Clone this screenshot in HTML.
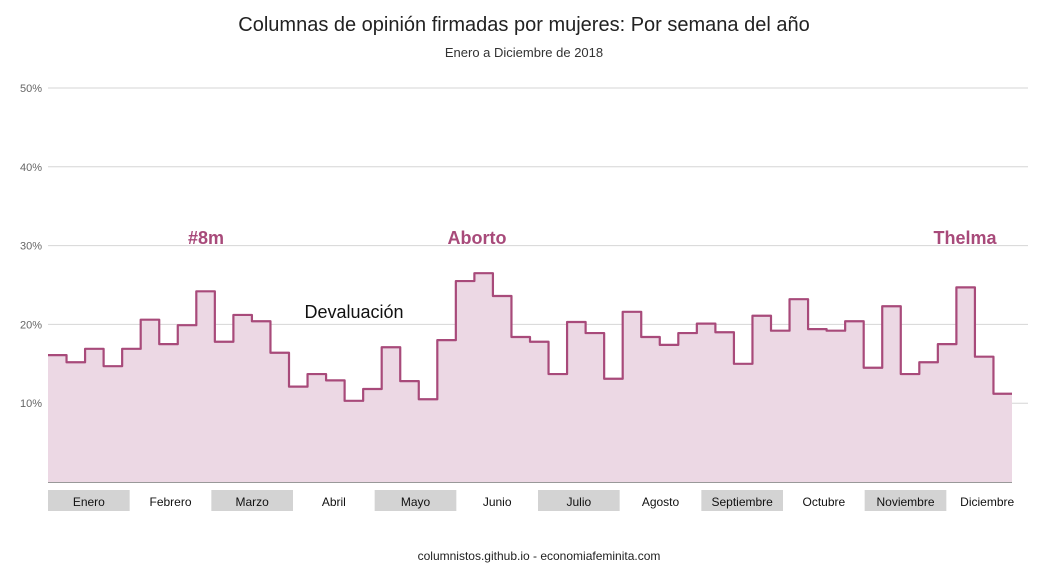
<!DOCTYPE html>
<html><head><meta charset="utf-8"><style>
body{margin:0;background:#fff;font-family:"Liberation Sans",sans-serif;}
svg{display:block}
</style></head><body>
<svg width="1042" height="575" id="c">
<text x="524" y="31" text-anchor="middle" font-size="20" fill="#222">Columnas de opinión firmadas por mujeres: Por semana del año</text>
<text x="524" y="57" text-anchor="middle" font-size="13" fill="#333">Enero a Diciembre de 2018</text>
<g id="grid"></g><g id="months"></g><g id="series"></g>
<text x="206" y="244" text-anchor="middle" font-size="18" font-weight="bold" fill="#a84a7a">#8m</text>
<text x="477" y="244" text-anchor="middle" font-size="18" font-weight="bold" fill="#a84a7a">Aborto</text>
<text x="965" y="244" text-anchor="middle" font-size="18" font-weight="bold" fill="#a84a7a">Thelma</text>
<text x="354" y="318" text-anchor="middle" font-size="18" fill="#111">Devaluación</text>
<text x="539" y="560" text-anchor="middle" font-size="12" fill="#222">columnistos.github.io - economiafeminita.com</text>
</svg>
<script>
const values=[16.1,15.2,16.9,14.7,16.9,20.6,17.5,19.9,24.2,17.8,21.2,20.4,16.4,12.1,13.7,12.9,10.3,11.8,17.1,12.8,10.5,18.0,25.5,26.5,23.6,18.4,17.8,13.7,20.3,18.9,13.1,21.6,18.4,17.4,18.9,20.1,19.0,15.0,21.1,19.2,23.2,19.4,19.2,20.4,14.5,22.3,13.7,15.2,17.5,24.7,15.9,11.2];
const yTicks=[10,20,30,40,50];
const yTickLabels=["10%","20%","30%","40%","50%"];
const months=["Enero","Febrero","Marzo","Abril","Mayo","Junio","Julio","Agosto","Septiembre","Octubre","Noviembre","Diciembre"];
const NS="http://www.w3.org/2000/svg";
const x0=48,x1=1012,y0=482,pxPer=7.88;
const xs=i=>x0+i*(x1-x0)/values.length;
const ys=v=>y0-v*pxPer;
function mk(t,a,p){const e=document.createElementNS(NS,t);for(const k in a)e.setAttribute(k,a[k]);p.appendChild(e);return e;}
const grid=document.getElementById('grid');
yTicks.forEach((t,i)=>{
 const l=mk('line',{x1:48,x2:1028,y1:ys(t),y2:ys(t),stroke:'#d6d6d6','stroke-width':1},grid);
 
 
 const tx=mk('text',{x:42,y:ys(t)+4,'text-anchor':'end','font-size':11,fill:'#666'},grid);
 tx.textContent=yTickLabels[i];
 
 
});
const base=mk('line',{x1:48,x2:1012,y1:y0,y2:y0,stroke:'#333','stroke-width':1},grid);


const mg=document.getElementById('months');
const mw=(1028-48)/12;
months.forEach((m,i)=>{
 const bx=48+i*mw;
 if(i%2===0){const r=mk('rect',{x:bx,y:490,width:mw,height:21,fill:'#d3d3d3'},mg);
 
 }
 const t=mk('text',{x:bx+mw/2,y:506,'text-anchor':'middle','font-size':12,fill:'#111'},mg);
 t.textContent=m;
 
 
});
const sg=document.getElementById('series');
let d='M'+x0+','+ys(values[0]);
values.forEach((v,i)=>{ if(i>0)d+=' L'+xs(i)+','+ys(v); d+=' L'+xs(i+1)+','+ys(v);});
const area=mk('path',{d:d+' L'+x1+','+y0+' L'+x0+','+y0+' Z',fill:'#ecd8e4',stroke:'none'},sg);


const line=mk('path',{d:d,fill:'none',stroke:'#a84a7a','stroke-width':2.2,'stroke-linejoin':'round'},sg);


</script>
</body></html>
